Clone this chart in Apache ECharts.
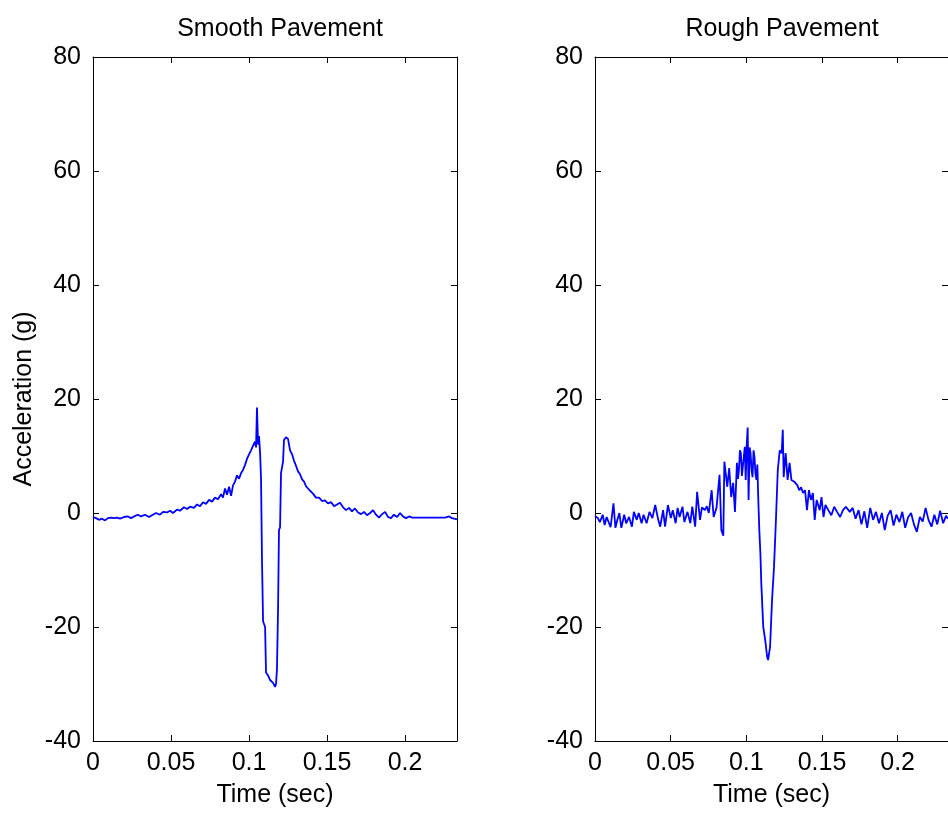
<!DOCTYPE html>
<html>
<head>
<meta charset="utf-8">
<script src="https://cdn.jsdelivr.net/npm/echarts@6/dist/echarts.min.js"></script>
<style>
  html, body { margin: 0; padding: 0; background: #fff; }
  #chart { width: 948px; height: 813px; }
</style>
</head>
<body>
<div id="chart"></div>
<script>
// Accelerometer trace over smooth pavement: time (s) and acceleration (g)
const smoothTime = [0,0.0019,0.0038,0.0058,0.0077,0.0096,0.0115,0.0135,0.0154,0.0173,
  0.0199,0.0224,0.0244,0.0263,0.0288,0.0308,0.0333,0.0359,0.0378,0.0404,
  0.0429,0.0449,0.0474,0.0494,0.0513,0.0538,0.0558,0.0583,0.0603,0.0622,
  0.0647,0.0667,0.0686,0.0705,0.0724,0.0744,0.0763,0.0782,0.0801,0.0821,
  0.0833,0.0846,0.0859,0.0872,0.0885,0.0897,0.0910,0.0923,0.0936,0.0949,
  0.0962,0.0974,0.0987,0.1000,0.1013,0.1026,0.1038,0.1045,0.1051,0.1058,
  0.1064,0.1071,0.1077,0.1083,0.1090,0.1103,0.1109,0.1122,0.1135,0.1154,
  0.1167,0.1173,0.1179,0.1186,0.1192,0.1199,0.1205,0.1218,0.1224,0.1237,
  0.1250,0.1263,0.1276,0.1288,0.1301,0.1314,0.1327,0.1340,0.1353,0.1365,
  0.1378,0.1391,0.1410,0.1429,0.1449,0.1468,0.1487,0.1506,0.1526,0.1545,
  0.1564,0.1583,0.1603,0.1622,0.1641,0.1660,0.1679,0.1699,0.1718,0.1737,
  0.1756,0.1776,0.1795,0.1814,0.1833,0.1853,0.1872,0.1891,0.1910,0.1929,
  0.1949,0.1968,0.1987,0.2006,0.2026,0.2045,0.2071,0.2160,0.2256,0.2263,
  0.2282,0.2301,0.2333];
const smoothAccel = [-0.7,-0.9,-1.2,-1.0,-1.3,-0.9,-0.8,-0.9,-0.8,-1.0,
  -0.7,-0.6,-0.9,-0.6,-0.3,-0.6,-0.3,-0.7,-0.4,0.0,
  -0.3,0.2,0.1,0.4,0.0,0.6,0.4,1.0,0.7,1.1,
  0.9,1.5,1.2,1.9,1.6,2.3,2.0,2.7,2.4,3.3,
  2.7,4.3,3.2,4.6,3.0,4.8,5.5,6.6,6.0,7.0,
  7.6,8.4,9.5,10.3,11.0,11.8,12.5,11.5,18.5,12.0,
  13.5,10.5,6.0,-8.0,-19.0,-20.0,-28.0,-28.5,-29.3,-29.8,
  -30.5,-30.0,-27.5,-17.0,-3.0,-2.5,7.0,9.0,12.8,13.3,
  13.0,11.0,10.3,9.2,8.3,7.3,6.8,5.9,5.5,4.7,
  4.3,3.9,3.4,2.7,2.7,2.1,2.2,1.7,1.9,1.2,
  1.5,1.8,1.0,0.5,0.9,0.3,0.8,0.1,-0.2,0.2,
  -0.4,0.0,0.5,-0.3,-0.8,-0.2,0.2,-0.7,-0.9,-0.3,
  -0.7,0.0,-0.6,-0.9,-0.6,-0.8,-0.8,-0.8,-0.8,-0.5,
  -0.6,-0.9,-1.1];

// Accelerometer trace over rough pavement
const roughTime = [0,0.0019,0.0032,0.0051,0.0064,0.0077,0.0103,0.0122,0.0135,0.0148,
  0.0161,0.0174,0.0193,0.0206,0.0225,0.0244,0.0257,0.0276,0.0289,0.0308,
  0.0321,0.0341,0.0360,0.0379,0.0398,0.0418,0.0431,0.0450,0.0463,0.0482,
  0.0501,0.0514,0.0533,0.0546,0.0559,0.0578,0.0591,0.0611,0.0630,0.0643,
  0.0662,0.0675,0.0694,0.0707,0.0726,0.0739,0.0752,0.0771,0.0784,0.0803,
  0.0823,0.0835,0.0848,0.0855,0.0874,0.0887,0.0900,0.0913,0.0925,0.0938,
  0.0945,0.0951,0.0958,0.0964,0.0971,0.0977,0.0984,0.0990,0.0996,0.1003,
  0.1009,0.1015,0.1022,0.1028,0.1035,0.1041,0.1048,0.1054,0.1060,0.1067,
  0.1073,0.1080,0.1086,0.1093,0.1099,0.1112,0.1125,0.1138,0.1144,0.1157,
  0.1170,0.1183,0.1195,0.1208,0.1221,0.1234,0.1241,0.1247,0.1260,0.1273,
  0.1286,0.1298,0.1317,0.1337,0.1350,0.1362,0.1375,0.1388,0.1401,0.1414,
  0.1427,0.1440,0.1452,0.1465,0.1485,0.1497,0.1510,0.1523,0.1542,0.1562,
  0.1581,0.1600,0.1620,0.1639,0.1658,0.1684,0.1703,0.1722,0.1742,0.1761,
  0.1780,0.1799,0.1819,0.1838,0.1857,0.1877,0.1896,0.1915,0.1934,0.1954,
  0.1973,0.1992,0.2012,0.2031,0.2050,0.2069,0.2089,0.2108,0.2127,0.2147,
  0.2166,0.2185,0.2204,0.2224,0.2243,0.2262,0.2281,0.2301,0.2320,0.2333];
const roughAccel = [-0.5,-0.9,-1.6,-0.3,-2.1,-0.7,-2.5,1.7,-2.6,-1.2,
  0.0,-2.6,-0.3,-1.8,-0.7,-2.4,0.2,-1.2,0.0,-1.8,
  -0.3,-1.8,0.2,-0.9,1.4,-1.2,-2.4,0.5,-2.4,1.4,
  -0.9,0.5,-1.8,0.9,-0.7,1.1,-1.6,0.2,-1.8,1.1,
  -2.4,3.7,-1.2,1.0,0.5,1.2,0.0,4.0,-0.7,0.9,
  6.7,-3.0,-4.0,9.0,4.6,7.9,2.8,5.3,0.2,8.8,
  6.0,7.5,11.0,10.5,6.5,6.7,10.0,11.6,5.8,12.0,
  15.0,2.3,11.5,10.5,7.5,6.3,11.0,9.8,7.0,5.8,
  8.5,1.7,-3.0,-7.0,-12.3,-20.0,-22.3,-25.3,-25.8,-23.5,
  -15.3,-9.5,-1.8,7.5,11.0,10.5,14.6,6.3,10.5,5.8,
  8.8,5.8,5.5,4.9,4.0,4.5,3.5,4.0,0.5,4.0,
  2.3,3.5,-1.2,2.3,0.5,2.8,-0.7,1.4,0.5,-0.4,
  1.1,0.2,-0.7,0.5,1.1,0.2,0.9,-1.0,0.5,-2.0,
  0.3,-2.6,0.9,-1.2,0.2,-1.8,0.0,-3.0,-0.5,0.5,
  -2.2,-0.3,-1.6,0.2,-2.6,-0.8,0.0,-2.0,-3.3,-0.7,
  -1.5,0.9,-1.2,-2.4,-0.3,-2.0,0.4,-1.8,-0.5,-1.0];

const panelTitles = ['Smooth Pavement', 'Rough Pavement'];
const timeRange = [0, 0.2333];
const accelRange = [-40, 80];

function zip(ts, vs) {
  if (ts.length !== vs.length) throw new Error('length mismatch ' + ts.length + ' vs ' + vs.length);
  return ts.map((t, i) => [t, vs[i]]);
}

const FONT = "'Liberation Sans', Arial, sans-serif";
const grids = [
  { left: 93, top: 57, width: 364, height: 684 },
  { left: 595, top: 57, width: 364, height: 684 }
];

// Boxed axes: every side drawn at the plot edge, ticks pointing inward
const axisLineStyle = { show: true, onZero: false, lineStyle: { color: '#000', width: 1 } };
const tickStyle = { show: true, inside: true, length: 6, lineStyle: { color: '#000', width: 1 } };
const labelText = { color: '#000', fontSize: 25, fontFamily: FONT };

const xAxes = [], yAxes = [];
grids.forEach((g, gi) => {
  xAxes.push({
    type: 'value', gridIndex: gi, position: 'bottom',
    min: timeRange[0], max: timeRange[1], interval: 0.05,
    axisLine: axisLineStyle, axisTick: tickStyle, splitLine: { show: false },
    axisLabel: Object.assign({ margin: 10, showMaxLabel: false,
      formatter: v => String(+v.toFixed(2)) }, labelText),
    name: 'Time (sec)', nameLocation: 'middle', nameGap: 42,
    nameTextStyle: labelText
  });
  xAxes.push({
    type: 'value', gridIndex: gi, position: 'top',
    min: timeRange[0], max: timeRange[1], interval: 0.05,
    axisLine: axisLineStyle, axisTick: tickStyle, splitLine: { show: false },
    axisLabel: { show: false }
  });
  yAxes.push({
    type: 'value', gridIndex: gi, position: 'left',
    min: accelRange[0], max: accelRange[1], interval: 20,
    axisLine: axisLineStyle, axisTick: tickStyle, splitLine: { show: false },
    axisLabel: Object.assign({ margin: 12 }, labelText),
    name: gi === 0 ? 'Acceleration (g)' : '', nameLocation: 'middle', nameGap: 56,
    nameTextStyle: labelText
  });
  yAxes.push({
    type: 'value', gridIndex: gi, position: 'right',
    min: accelRange[0], max: accelRange[1], interval: 20,
    axisLine: axisLineStyle, axisTick: tickStyle, splitLine: { show: false },
    axisLabel: { show: false }
  });
});

const traceStyle = { color: '#0000ff', width: 1.8 };
const option = {
  animation: false,
  backgroundColor: '#fff',
  title: panelTitles.map((t, i) => ({
    text: t,
    left: grids[i].left + grids[i].width / 2,
    top: 12,
    textAlign: 'center',
    textStyle: { color: '#000', fontSize: 25, fontWeight: 'normal', fontFamily: FONT }
  })),
  grid: grids,
  xAxis: xAxes,
  yAxis: yAxes,
  series: [
    { type: 'line', xAxisIndex: 0, yAxisIndex: 0, data: zip(smoothTime, smoothAccel),
      showSymbol: false, lineStyle: traceStyle, itemStyle: { color: '#0000ff' } },
    { type: 'line', xAxisIndex: 2, yAxisIndex: 2, data: zip(roughTime, roughAccel),
      showSymbol: false, lineStyle: traceStyle, itemStyle: { color: '#0000ff' } }
  ]
};

const chart = echarts.init(document.getElementById('chart'), null, { renderer: 'canvas' });
chart.setOption(option);
</script>
</body>
</html>
